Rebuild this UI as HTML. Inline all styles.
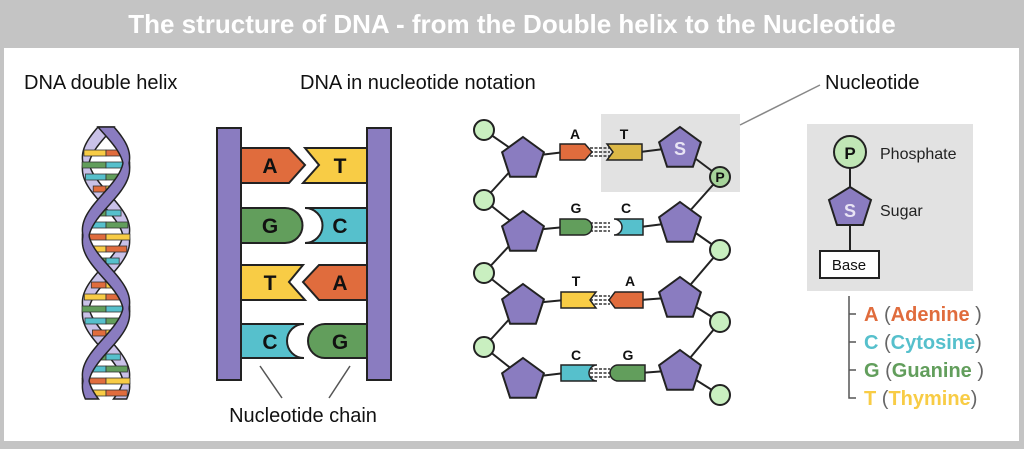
<!DOCTYPE html>
<html><head><meta charset="utf-8"><style>
html,body{margin:0;padding:0;background:#c4c4c4;}
svg{display:block;font-family:"Liberation Sans",sans-serif;}
</style></head><body>
<svg id="s" width="1024" height="449" viewBox="0 0 1024 449" xmlns="http://www.w3.org/2000/svg">
<rect x="0" y="0" width="1024" height="449" fill="#c4c4c4"/>
<rect x="4" y="48" width="1015" height="393" fill="#fff"/>
<text x="512" y="33" text-anchor="middle" font-size="26" font-weight="bold" fill="#fff">The structure of DNA - from the Double helix to the Nucleotide</text>
<text x="24" y="89" font-size="20" fill="#111">DNA double helix</text>
<text x="300" y="89" font-size="20" fill="#111">DNA in nucleotide notation</text>
<text x="825" y="89" font-size="20" fill="#111">Nucleotide</text>
<text x="303" y="422" font-size="20" fill="#111" text-anchor="middle">Nucleotide chain</text>

<g id="helix"></g>

<g stroke="#222" stroke-width="2">
<rect x="217" y="128" width="24" height="252" fill="#8a7cc0"/>
<rect x="367" y="128" width="24" height="252" fill="#8a7cc0"/>
<path d="M241,148 H289 L305,165 L289,183 H241Z" fill="#e06c3d"/>
<path d="M367,148 H305 L319,165 L303,183 H367Z" fill="#f8cc45"/>
<path d="M241,208 H285 A17,17 0 0 1 285,243 H241Z" fill="#629e5c"/>
<path d="M367,208 H305 A17,17 0 0 1 305,243 H367Z" fill="#56c0cc"/>
<path d="M241,265 H303 L289,282 L305,300 H241Z" fill="#f8cc45"/>
<path d="M367,265 H319 L303,282 L319,300 H367Z" fill="#e06c3d"/>
<path d="M241,324 H304 A17,17 0 0 0 304,358 H241Z" fill="#56c0cc"/>
<path d="M367,324 H325 A17,17 0 0 0 325,358 H367Z" fill="#629e5c"/>
</g>
<g font-size="21" font-weight="bold" fill="#111" text-anchor="middle">
<text x="270" y="173">A</text><text x="340" y="173">T</text>
<text x="270" y="233">G</text><text x="340" y="233">C</text>
<text x="270" y="290">T</text><text x="340" y="290">A</text>
<text x="270" y="349">C</text><text x="340" y="349">G</text>
</g>
<g stroke="#555" stroke-width="1.5"><line x1="260" y1="366" x2="282" y2="398"/><line x1="350" y1="366" x2="329" y2="398"/></g>

<rect x="601" y="114" width="139" height="78" fill="#e2e2e2"/>
<line x1="740" y1="125" x2="820" y2="85" stroke="#888" stroke-width="1.5"/>
<g id="chain"></g>

<rect x="807" y="124" width="166" height="167" fill="#e2e2e2"/>
<g stroke="#222" stroke-width="2">
<line x1="850" y1="152" x2="850" y2="260"/>
<circle cx="850" cy="152" r="16" fill="#c0e6b5"/>
<path d="M850,190 L871,203 L863,228 L837,228 L829,203Z" transform="translate(0,-3)" fill="#8a7cc0"/>
<rect x="820" y="251" width="59" height="27" fill="#fff"/>
</g>
<text x="850" y="159" font-size="17" font-weight="bold" text-anchor="middle" fill="#111">P</text>
<text x="850" y="217" font-size="18" font-weight="bold" text-anchor="middle" fill="#e8e4f4">S</text>
<text x="849" y="270" font-size="15" text-anchor="middle" fill="#111">Base</text>
<text x="880" y="159" font-size="16" fill="#222">Phosphate</text>
<text x="880" y="216" font-size="16" fill="#222">Sugar</text>
<path d="M849,296 V398 H856 M849,314 H856 M849,342 H856 M849,370 H856" stroke="#555" stroke-width="1.5" fill="none"/>
<g font-size="20" font-weight="bold">
<text x="864" y="321"><tspan fill="#e06c3d">A</tspan><tspan fill="#666" font-weight="normal"> (</tspan><tspan fill="#e06c3d">Adenine</tspan><tspan fill="#666" font-weight="normal"> )</tspan></text>
<text x="864" y="349"><tspan fill="#56c0cc">C</tspan><tspan fill="#666" font-weight="normal"> (</tspan><tspan fill="#56c0cc">Cytosine</tspan><tspan fill="#666" font-weight="normal">)</tspan></text>
<text x="864" y="377"><tspan fill="#629e5c">G</tspan><tspan fill="#666" font-weight="normal"> (</tspan><tspan fill="#629e5c">Guanine</tspan><tspan fill="#666" font-weight="normal"> )</tspan></text>
<text x="864" y="405"><tspan fill="#f8cc45">T</tspan><tspan fill="#666" font-weight="normal"> (</tspan><tspan fill="#f8cc45">Thymine</tspan><tspan fill="#666" font-weight="normal">)</tspan></text>
</g>
</svg>
<script>
(function(){
var NS="http://www.w3.org/2000/svg";
function el(p,t,a,txt){var e=document.createElementNS(NS,t);for(var k in a)e.setAttribute(k,a[k]);if(txt)e.textContent=txt;p.appendChild(e);return e;}
var h=document.getElementById("helix");
var cx=106,A=20,y0=127,y1=400,per=145;
function X(y,ph){return cx+A*Math.sin(2*Math.PI*(y-y0)/per+ph);}
function strand(ph){var l=[],r=[];for(var y=y0;y<=y1;y+=2){var x=X(y,ph);var d=Math.cos(2*Math.PI*(y-y0)/per+ph);var w=3+5*Math.abs(d);l.push((x-w)+","+y);r.unshift((x+w)+","+y);}return "M"+l.join(" L")+" L"+r.join(" L")+"Z";}
el(h,"path",{d:strand(Math.PI),fill:"#c9c1e8",stroke:"#222","stroke-width":1.5});
var cols=[["#f8cc45","#e06c3d"],["#629e5c","#56c0cc"],["#56c0cc","#629e5c"],["#e06c3d","#f8cc45"]];
var i=0;
for(var y=y0+26;y<y1-4;y+=12){var xa=X(y,0),xb=X(y,Math.PI);var a=Math.min(xa,xb)-4,b=Math.max(xa,xb)+4;if(b-a<16){i++;continue;}var m=(a+b)/2,c=cols[i%4];
el(h,"rect",{x:a,y:y-3,width:m-a,height:6,fill:c[0],stroke:"#333","stroke-width":0.8});
el(h,"rect",{x:m,y:y-3,width:b-m,height:6,fill:c[1],stroke:"#333","stroke-width":0.8});i++;}
el(h,"path",{d:strand(0),fill:"#8a7cc0",stroke:"#222","stroke-width":1.5});
var g=document.getElementById("chain");
function pent(cx,cy,r,fill){var p=[];for(var k=0;k<5;k++){var an=-Math.PI/2+k*2*Math.PI/5;p.push((cx+r*Math.cos(an)).toFixed(1)+","+(cy+r*Math.sin(an)).toFixed(1));}el(g,"polygon",{points:p.join(" "),fill:fill,stroke:"#222","stroke-width":2});}
var Lc=[[484,130],[484,200],[484,273],[484,347]],Lp=[157,231,304,378];
var Rp=[147,222,297,370],Rc=[[720,177],[720,250],[720,322],[720,395]];
var ln={stroke:"#222","stroke-width":2};
for(var k=0;k<4;k++){
 el(g,"line",Object.assign({x1:484,y1:Lc[k][1],x2:523,y2:Lp[k]},ln));
 if(k<3)el(g,"line",Object.assign({x1:523,y1:Lp[k],x2:484,y2:Lc[k+1][1]},ln));
 el(g,"line",Object.assign({x1:680,y1:Rp[k],x2:720,y2:Rc[k][1]},ln));
 if(k>0)el(g,"line",Object.assign({x1:720,y1:Rc[k-1][1],x2:680,y2:Rp[k]},ln));
 var by=[152,227,300,373][k];
 el(g,"line",Object.assign({x1:523,y1:Lp[k],x2:565,y2:by},ln));
 el(g,"line",Object.assign({x1:640,y1:by,x2:680,y2:Rp[k]},ln));
 el(g,"path",{d:"M590,"+(by-4)+"H610 M590,"+by+"H610 M590,"+(by+4)+"H610",stroke:"#333","stroke-width":1.5,"stroke-dasharray":"3,1.5"});
}
for(var k=0;k<4;k++){el(g,"circle",{cx:Lc[k][0],cy:Lc[k][1],r:10,fill:"#c9efc0",stroke:"#222","stroke-width":2});pent(523,Lp[k]+2,22,"#8a7cc0");}
for(var k=0;k<4;k++){pent(680,Rp[k]+2,22,"#8a7cc0");el(g,"circle",{cx:Rc[k][0],cy:Rc[k][1],r:10,fill:k==0?"#a6d39a":"#c9efc0",stroke:"#222","stroke-width":2});}
var st={stroke:"#222","stroke-width":1.5};
function P(d,f){el(g,"path",Object.assign({d:d,fill:f},st));}
P("M560,144 H585 L592,152 L585,160 H560Z","#e06c3d");
P("M642,144 H607 L613,152 L607,160 H642Z","#dcb846");
P("M560,219 H584 A8,8 0 0 1 584,235 H560Z","#629e5c");
P("M643,219 H614 A8,8 0 0 1 614,235 H643Z","#56c0cc");
P("M561,292 H596 L590,300 L596,308 H561Z","#f8cc45");
P("M643,292 H615 L609,300 L615,308 H643Z","#e06c3d");
P("M561,365 H597 A8,8 0 0 0 597,381 H561Z","#56c0cc");
P("M645,365 H618 A8,8 0 0 0 618,381 H645Z","#629e5c");
var L=[["A",575,139],["T",624,139],["G",576,213],["C",626,213],["T",576,286],["A",630,286],["C",576,360],["G",628,360]];
L.forEach(function(t){el(g,"text",{x:t[1],y:t[2],"font-size":14,"font-weight":"bold","text-anchor":"middle",fill:"#111"},t[0]);});
el(g,"text",{x:680,y:155,"font-size":18,"font-weight":"bold","text-anchor":"middle",fill:"#e8e4f4"},"S");
el(g,"text",{x:720,y:182,"font-size":14,"font-weight":"bold","text-anchor":"middle",fill:"#111"},"P");
})();
</script>
</body></html>
